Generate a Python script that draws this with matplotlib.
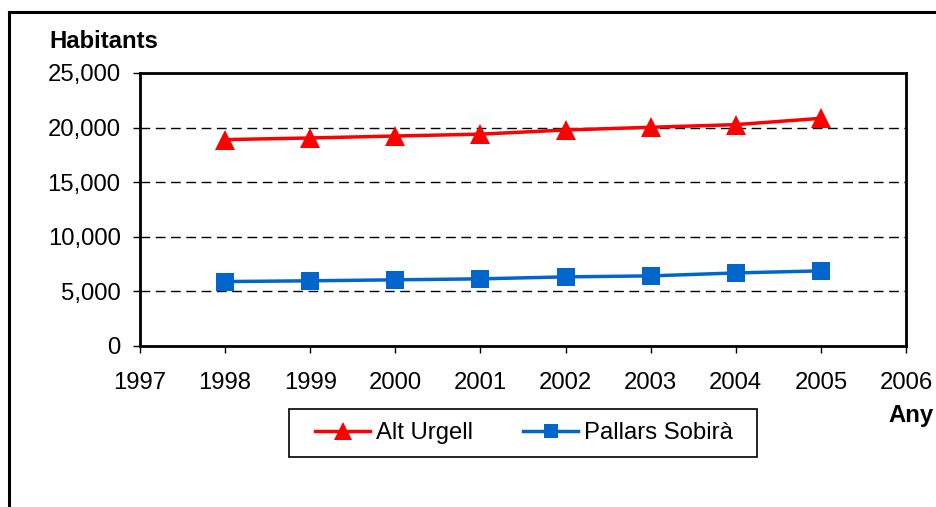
import matplotlib
matplotlib.use('Agg')
import matplotlib.pyplot as plt
from matplotlib.lines import Line2D
from matplotlib.patches import Rectangle
from matplotlib.ticker import FuncFormatter

plt.rcParams['font.family'] = ['Liberation Sans', 'DejaVu Sans']

years = [1998, 1999, 2000, 2001, 2002, 2003, 2004, 2005]
alt_urgell = [18900, 19050, 19230, 19400, 19780, 20030, 20270, 20850]
pallars_sobira = [5900, 5970, 6060, 6150, 6330, 6420, 6690, 6880]
x_ticks = list(range(1997, 2007))
y_ticks = [0, 5000, 10000, 15000, 20000, 25000]

fs = 17.2
W, H = 937, 507

fig = plt.figure(figsize=(9.37, 5.07), dpi=100)
ax = fig.add_axes([140 / W, 1 - 346 / H, 766 / W, 273 / H])

ax.plot(years, alt_urgell, color='#ff0000', lw=2.5, marker='^', ms=14.5,
        markeredgewidth=0, label='Alt Urgell', zorder=3)
ax.plot(years, pallars_sobira, color='#0066cc', lw=2.5, marker='s', ms=12.5,
        markeredgewidth=0, label='Pallars Sobirà', zorder=3)

ax.set_xlim(1997, 2006)
ax.set_ylim(0, 25000)
ax.set_xticks(x_ticks)
ax.set_yticks(y_ticks)
ax.yaxis.set_major_formatter(FuncFormatter(lambda v, p: f'{int(v):,}'))

for y in y_ticks[1:-1]:
    ax.axhline(y, color='black', lw=1, ls=(0, (7, 4)), zorder=1)

for s in ax.spines.values():
    s.set_linewidth(2)
ax.tick_params(axis='both', labelsize=fs, length=5, width=1, direction='out')
ax.tick_params(axis='y', pad=9)
ax.tick_params(axis='x', pad=13.5)

fig.text(49 / W, 1 - 48 / H, 'Habitants', fontsize=fs, fontweight='bold',
         ha='left', va='baseline')
fig.text(934 / W, 1 - 422 / H, 'Any', fontsize=fs, fontweight='bold',
         ha='right', va='baseline')

# legend without its own frame, box drawn separately
leg = fig.legend(loc='center', bbox_to_anchor=(524 / W, 1 - 433 / H),
                 ncol=2, fontsize=fs, frameon=False,
                 handlelength=2.3, columnspacing=2.1,
                 handletextpad=0.25, borderpad=0.0, markerscale=0.85)
fig.add_artist(Rectangle((289 / W, 1 - 457 / H), 468 / W, 48 / H,
                         transform=fig.transFigure, fill=False,
                         edgecolor='black', lw=1.2))

fig.add_artist(Line2D([9.5 / W, 9.5 / W], [0, 1 - 12 / H], color='black', lw=2.2))
fig.add_artist(Line2D([9.5 / W, 1], [1 - 12 / H, 1 - 12 / H], color='black', lw=2.2))

fig.savefig('out.png', dpi=100)
